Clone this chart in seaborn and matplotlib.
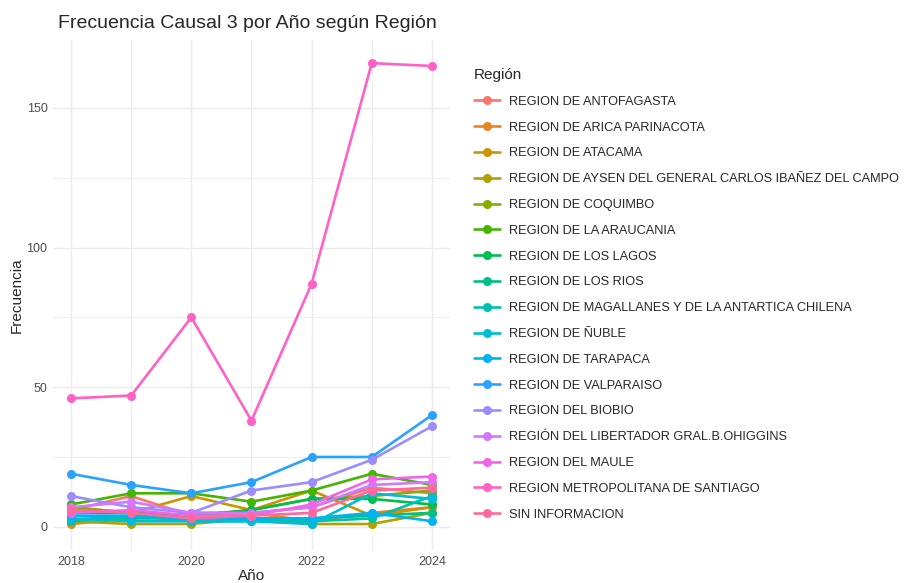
import numpy as np
import pandas as pd
import seaborn as sns
import matplotlib
matplotlib.use("Agg")
import matplotlib.pyplot as plt
from matplotlib.ticker import MultipleLocator

years = [2018, 2019, 2020, 2021, 2022, 2023, 2024]

regiones = [
    "REGION DE ANTOFAGASTA",
    "REGION DE ARICA PARINACOTA",
    "REGION DE ATACAMA",
    "REGION DE AYSEN DEL GENERAL CARLOS IBAÑEZ DEL CAMPO",
    "REGION DE COQUIMBO",
    "REGION DE LA ARAUCANIA",
    "REGION DE LOS LAGOS",
    "REGION DE LOS RIOS",
    "REGION DE MAGALLANES Y DE LA ANTARTICA CHILENA",
    "REGION DE ÑUBLE",
    "REGION DE TARAPACA",
    "REGION DE VALPARAISO",
    "REGION DEL BIOBIO",
    "REGIÓN DEL LIBERTADOR GRAL.B.OHIGGINS",
    "REGION DEL MAULE",
    "REGION METROPOLITANA DE SANTIAGO",
    "SIN INFORMACION",
]

antofagasta = [6, 11, 4, 5, 7, 14, 12]
arica = [1, 3, 5, 5, 2, 5, 7]
atacama = [7, 5, 11, 6, 13, 4, 7]
aysen = [2, 1, 1, 3, 1, 1, 5]
coquimbo = [7, 5, 4, 6, 10, 11, 13]
araucania = [8, 12, 12, 9, 13, 19, 15]
los_lagos = [5, 5, 4, 6, 10, 10, 8]
los_rios = [4, 3, 3, 3, 3, 4, 5]
magallanes = [2, 4, 2, 2, 2, 3, 11]
nuble = [3, 2, 2, 2, 1, 12, 10]
tarapaca = [4, 4, 3, 3, 3, 5, 2]
valparaiso = [19, 15, 12, 16, 25, 25, 40]
biobio = [11, 7, 5, 13, 16, 24, 36]
libertador = [7, 9, 5, 5, 7, 15, 16]
maule = [5, 6, 4, 4, 8, 17, 18]
metropolitana = [46, 47, 75, 38, 87, 166, 165]
sin_info = [6, 5, 3, 4, 5, 13, 14]

series = [antofagasta, arica, atacama, aysen, coquimbo, araucania, los_lagos,
          los_rios, magallanes, nuble, tarapaca, valparaiso, biobio, libertador,
          maule, metropolitana, sin_info]

rows = []
for reg, vals in zip(regiones, series):
    for y, v in zip(years, vals):
        rows.append({"Año": y, "Frecuencia": v, "Región": reg})
df = pd.DataFrame(rows)


def hue_pal(n, c=100, l=65):
    # ggplot2 style hcl palette
    hs = np.linspace(15, 375, n + 1)[:-1]
    un, vn = 0.1978398, 0.4683363
    Y = ((l + 16) / 116) ** 3
    cols = []
    for h in hs:
        u = c * np.cos(np.radians(h))
        v = c * np.sin(np.radians(h))
        up = u / (13 * l) + un
        vp = v / (13 * l) + vn
        X = Y * 9 * up / (4 * vp)
        Z = Y * (12 - 3 * up - 20 * vp) / (4 * vp)
        M = np.array([[3.2404542, -1.5371385, -0.4985314],
                      [-0.9692660, 1.8760108, 0.0415560],
                      [0.0556434, -0.2040259, 1.0572252]])
        rgb = M @ np.array([X, Y, Z])
        rgb = np.where(rgb <= 0.0031308, 12.92 * rgb, 1.055 * np.abs(rgb) ** (1 / 2.4) - 0.055)
        cols.append(tuple(np.clip(rgb, 0, 1)))
    return cols


palette = dict(zip(regiones, hue_pal(len(regiones))))

sns.set_style("white")
plt.rcParams["font.family"] = ["Liberation Sans", "DejaVu Sans"]

fig = plt.figure(figsize=(9.09, 5.83), dpi=100)
ax = fig.add_axes([0.0583, 0.0566, 0.4367, 0.8748])

sns.lineplot(data=df, x="Año", y="Frecuencia", hue="Región", hue_order=regiones,
             palette=palette, marker="o", markersize=6.5, markeredgewidth=0,
             linewidth=1.9, ax=ax, legend=True)

ax.set_xlim(2017.7, 2024.3)
ax.set_ylim(-8.3, 174.3)
ax.xaxis.set_major_locator(MultipleLocator(2))
ax.xaxis.set_minor_locator(MultipleLocator(1))
ax.yaxis.set_major_locator(MultipleLocator(50))
ax.yaxis.set_minor_locator(MultipleLocator(25))
ax.grid(which="major", color="#ebebeb", linewidth=1.0)
ax.grid(which="minor", color="#ebebeb", linewidth=0.6)
ax.set_axisbelow(True)
for s in ax.spines.values():
    s.set_visible(False)
ax.tick_params(which="both", length=0, labelsize=9, labelcolor="#4d4d4d", pad=4)

ax.set_xlabel("Año", fontsize=11, labelpad=1)
ax.set_ylabel("Frecuencia", fontsize=11, labelpad=2)
fig.text(0.0638, 0.96, "Frecuencia Causal 3 por Año según Región",
         fontsize=14, ha="left", va="center")

handles, labels = ax.get_legend_handles_labels()
ax.legend(handles, labels, title="Región", loc="upper left",
          bbox_to_anchor=(0.516, 0.892), bbox_transform=fig.transFigure,
          frameon=False, fontsize=9.2, title_fontsize=11, alignment="left",
          labelspacing=1.08, handlelength=2.0, handletextpad=0.75,
          borderaxespad=0)

fig.savefig("out.png", dpi=100)
